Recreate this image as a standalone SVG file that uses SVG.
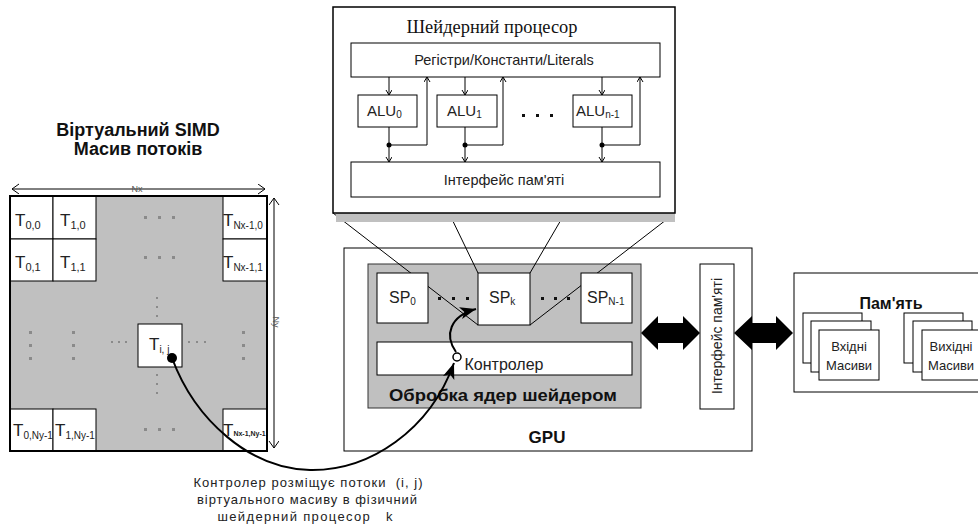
<svg xmlns="http://www.w3.org/2000/svg" width="978" height="526" viewBox="0 0 978 526">
<defs>
<style>
.box{fill:#fff;stroke:#000;stroke-width:1}
.thin{fill:none;stroke:#000;stroke-width:1}
.t{font-family:"Liberation Sans",Arial,sans-serif;fill:#222}
.b{font-family:"Liberation Sans",Arial,sans-serif;font-weight:bold;fill:#111}
.dot{fill:#8a8a8a}
.bd{fill:#111}
</style>
<marker id="ah" markerUnits="userSpaceOnUse" markerWidth="18" markerHeight="14" refX="16" refY="6" orient="auto"><path d="M0,0 L16,6 L0,12 L4,6 z" fill="#000"/></marker>
<marker id="sm" markerUnits="userSpaceOnUse" markerWidth="8" markerHeight="8" refX="5" refY="3" orient="auto"><path d="M0,0 L5,3 L0,6" fill="none" stroke="#000" stroke-width="1"/></marker>
<marker id="op" markerUnits="userSpaceOnUse" markerWidth="10" markerHeight="12" refX="7" refY="5" orient="auto"><path d="M0,0 L7,5 L0,10" fill="none" stroke="#000" stroke-width="1"/></marker>
</defs>
<rect width="978" height="526" fill="#fff"/>

<!-- Virtual SIMD array -->
<g id="simd-title">
<text class="b" x="138" y="136" font-size="18" text-anchor="middle">Віртуальний SIMD</text>
<text class="b" x="138" y="155" font-size="18" text-anchor="middle">Масив потоків</text>
</g>
<g id="simd-array">
<rect x="10" y="196" width="257" height="255" fill="#c0c0c0" stroke="#000" stroke-width="2"/>
<rect class="box" x="10" y="196" width="43" height="43"/>
<rect class="box" x="53" y="196" width="43" height="43"/>
<rect class="box" x="10" y="239" width="43" height="42"/>
<rect class="box" x="53" y="239" width="43" height="42"/>
<rect class="box" x="223" y="196" width="44" height="43"/>
<rect class="box" x="223" y="239" width="44" height="42"/>
<rect class="box" x="10" y="409" width="43" height="42"/>
<rect class="box" x="53" y="409" width="43" height="42"/>
<rect class="box" x="223" y="409" width="44" height="42"/>
<rect class="box" x="138" y="324" width="44" height="43"/>
<rect x="10" y="196" width="257" height="255" fill="none" stroke="#000" stroke-width="2"/>
<text class="t" x="15" y="226" font-size="17">T<tspan font-size="11" dy="3">0,0</tspan></text>
<text class="t" x="60" y="226" font-size="17">T<tspan font-size="11" dy="3">1,0</tspan></text>
<text class="t" x="15" y="268" font-size="17">T<tspan font-size="11" dy="3">0,1</tspan></text>
<text class="t" x="60" y="268" font-size="17">T<tspan font-size="11" dy="3">1,1</tspan></text>
<text class="t" x="223" y="226" font-size="17">T<tspan font-size="10" dy="3">Nx-1,0</tspan></text>
<text class="t" x="223" y="268" font-size="17">T<tspan font-size="10" dy="3">Nx-1,1</tspan></text>
<text class="t" x="13" y="436" font-size="17">T<tspan font-size="10" dy="3">0,Ny-1</tspan></text>
<text class="t" x="55" y="436" font-size="17">T<tspan font-size="10" dy="3">1,Ny-1</tspan></text>
<text class="t" x="223" y="436" font-size="17">T<tspan font-size="7" font-weight="bold" dy="0">Nx-1,Ny-1</tspan></text>
<text class="t" x="149" y="350" font-size="17">T<tspan font-size="10" dy="3">i, j</tspan></text>
<!-- dots -->
<rect class="dot" x="144" y="216" width="3" height="3"/><rect class="dot" x="158" y="216" width="3" height="3"/><rect class="dot" x="172" y="216" width="3" height="3"/>
<rect class="dot" x="144" y="256" width="3" height="3"/><rect class="dot" x="158" y="256" width="3" height="3"/><rect class="dot" x="172" y="256" width="3" height="3"/>
<rect class="dot" x="144" y="428" width="3" height="3"/><rect class="dot" x="158" y="428" width="3" height="3"/><rect class="dot" x="172" y="428" width="3" height="3"/>
<rect class="dot" x="29" y="331" width="3" height="3"/><rect class="dot" x="29" y="344" width="3" height="3"/><rect class="dot" x="29" y="357" width="3" height="3"/>
<rect class="dot" x="72" y="331" width="3" height="3"/><rect class="dot" x="72" y="344" width="3" height="3"/><rect class="dot" x="72" y="357" width="3" height="3"/>
<rect class="dot" x="242" y="331" width="3" height="3"/><rect class="dot" x="242" y="344" width="3" height="3"/><rect class="dot" x="242" y="357" width="3" height="3"/>
<rect class="dot" x="156" y="297" width="2" height="2"/><rect class="dot" x="156" y="306" width="2" height="2"/><rect class="dot" x="156" y="315" width="2" height="2"/>
<rect class="dot" x="156" y="374" width="2" height="2"/><rect class="dot" x="156" y="383" width="2" height="2"/><rect class="dot" x="156" y="392" width="2" height="2"/>
<rect class="dot" x="111" y="341" width="2" height="2"/><rect class="dot" x="118" y="341" width="2" height="2"/><rect class="dot" x="125" y="341" width="2" height="2"/>
<rect class="dot" x="188" y="341" width="2" height="2"/><rect class="dot" x="196" y="341" width="2" height="2"/><rect class="dot" x="204" y="341" width="2" height="2"/>
</g>
<g id="dims">
<line class="thin" x1="137" y1="189" x2="12" y2="189" marker-end="url(#op)"/>
<line class="thin" x1="137" y1="189" x2="265" y2="189" marker-end="url(#op)"/>
<text x="137" y="192" font-size="9" text-anchor="middle" font-family="Liberation Sans,Arial,sans-serif" fill="#555">Nx</text>
<line class="thin" x1="274" y1="322" x2="274" y2="198" marker-end="url(#op)"/>
<line class="thin" x1="274" y1="322" x2="274" y2="448" marker-end="url(#op)"/>
<text transform="translate(273,322) rotate(90)" font-size="9" text-anchor="middle" font-family="Liberation Sans,Arial,sans-serif" fill="#555">Ny</text>
</g>

<!-- GPU -->
<g id="gpu">
<rect class="box" x="344" y="248" width="408" height="203"/>
<text class="b" x="547" y="443" font-size="17" text-anchor="middle">GPU</text>
</g>
<g id="shader-core">
<rect x="368" y="264" width="273" height="144" fill="#c0c0c0" stroke="#333" stroke-width="1"/>
<text class="b" x="503" y="401" font-size="17" text-anchor="middle" textLength="228" lengthAdjust="spacingAndGlyphs">Обробка ядер шейдером</text>
</g>
<g id="connectors">
<line class="thin" x1="333" y1="213" x2="478" y2="325"/>
<line class="thin" x1="449" y1="213" x2="478" y2="273"/>
<line class="thin" x1="565" y1="213" x2="530" y2="273"/>
<line class="thin" x1="675" y1="213" x2="530" y2="325"/>
</g>
<g id="sp0"><rect class="box" x="377" y="273" width="51" height="50"/><text class="t" x="389" y="303" font-size="16">SP<tspan font-size="10" dy="2">0</tspan></text></g>
<g id="spk"><rect class="box" x="478" y="273" width="52" height="52"/><text class="t" x="489" y="303" font-size="16">SP<tspan font-size="10" dy="2">k</tspan></text></g>
<g id="spn"><rect class="box" x="581" y="273" width="51" height="50"/><text class="t" x="587" y="303" font-size="16">SP<tspan font-size="10" dy="2">N-1</tspan></text></g>
<g id="sp-dots">
<rect class="bd" x="438" y="297" width="3" height="3"/><rect class="bd" x="452" y="297" width="3" height="3"/><rect class="bd" x="466" y="297" width="3" height="3"/>
<rect class="bd" x="541" y="297" width="3" height="3"/><rect class="bd" x="554" y="297" width="3" height="3"/><rect class="bd" x="567" y="297" width="3" height="3"/>
</g>
<g id="controller"><rect class="box" x="377" y="342" width="255" height="33"/><text class="t" x="504" y="370" font-size="16" text-anchor="middle">Контролер</text></g>
<g id="mem-iface"><rect class="box" x="700" y="264" width="34" height="145"/><text class="t" transform="translate(722,336) rotate(-90)" font-size="14" text-anchor="middle">Інтерфейс пам'яті</text></g>
<g id="bus">
<polygon points="641,333 658,316 658,323 683,323 683,316 700,333 683,350 683,343 658,343 658,350" fill="#000"/>
<polygon points="734,333 752,316 752,323 776,323 776,316 793,333 776,350 776,343 752,343 752,350" fill="#000"/>
</g>

<!-- Memory -->
<g id="memory">
<rect class="box" x="794" y="273" width="190" height="119"/>
<text class="b" x="891" y="309" font-size="16" text-anchor="middle">Пам'ять</text>
<rect class="box" x="803" y="313" width="59" height="50"/>
<rect class="box" x="811" y="321" width="60" height="51"/>
<rect class="box" x="819" y="330" width="60" height="50"/>
<text class="t" x="849" y="351" font-size="13" text-anchor="middle">Вхідні</text>
<text class="t" x="849" y="370" font-size="13" text-anchor="middle">Масиви</text>
<rect class="box" x="904" y="313" width="59" height="50"/>
<rect class="box" x="913" y="321" width="59" height="51"/>
<rect class="box" x="922" y="330" width="60" height="50"/>
<text class="t" x="951" y="351" font-size="13" text-anchor="middle">Вихідні</text>
<text class="t" x="951" y="370" font-size="13" text-anchor="middle">Масиви</text>
</g>

<!-- Shader processor -->
<g id="shader-processor">
<rect x="336" y="213" width="339" height="9" fill="#c0c0c0"/>
<rect x="333" y="7" width="342" height="206" fill="#fff" stroke="#000" stroke-width="1.5"/>
<text x="492" y="33" font-size="18" text-anchor="middle" font-family="Liberation Serif,Times New Roman,serif" fill="#111" textLength="171" lengthAdjust="spacingAndGlyphs">Шейдерний процесор</text>
</g>
<g id="registers"><rect class="box" x="351" y="43" width="309" height="34"/><text class="t" x="504" y="65" font-size="14.5" text-anchor="middle">Регістри/Константи/Literals</text></g>
<g id="alu0"><rect class="box" x="358" y="95" width="59" height="32"/><text class="t" x="367" y="116" font-size="15">ALU<tspan font-size="10" dy="2">0</tspan></text></g>
<g id="alu1"><rect class="box" x="437" y="95" width="60" height="32"/><text class="t" x="447" y="116" font-size="15">ALU<tspan font-size="10" dy="2">1</tspan></text></g>
<g id="alun"><rect class="box" x="573" y="95" width="59" height="32"/><text class="t" x="576" y="116" font-size="15">ALU<tspan font-size="10" dy="2">n-1</tspan></text></g>
<g id="alu-dots"><rect class="bd" x="522" y="114" width="3" height="3"/><rect class="bd" x="536" y="114" width="3" height="3"/><rect class="bd" x="550" y="114" width="3" height="3"/></g>
<g id="interface"><rect class="box" x="351" y="162" width="309" height="35"/><text class="t" x="504" y="185" font-size="14.5" text-anchor="middle">Інтерфейс пам'яті</text></g>
<g id="alu-links">
<line class="thin" x1="389" y1="77" x2="389" y2="95" marker-end="url(#sm)"/>
<line class="thin" x1="389" y1="127" x2="389" y2="162" marker-end="url(#sm)"/>
<polyline class="thin" points="389,145 427,145 427,77" marker-end="url(#sm)"/>
<circle cx="389" cy="145" r="2.5" fill="#000"/>
<line class="thin" x1="465" y1="77" x2="465" y2="95" marker-end="url(#sm)"/>
<line class="thin" x1="465" y1="127" x2="465" y2="162" marker-end="url(#sm)"/>
<polyline class="thin" points="465,145 503,145 503,77" marker-end="url(#sm)"/>
<circle cx="465" cy="145" r="2.5" fill="#000"/>
<line class="thin" x1="602" y1="77" x2="602" y2="95" marker-end="url(#sm)"/>
<line class="thin" x1="602" y1="127" x2="602" y2="162" marker-end="url(#sm)"/>
<polyline class="thin" points="602,145 640,145 640,77" marker-end="url(#sm)"/>
<circle cx="602" cy="145" r="2.5" fill="#000"/>
</g>

<!-- Mapping curve -->
<g id="mapping">
<path d="M172,358 C195,420 250,469 310,470 C370,471 430,430 454,363" fill="none" stroke="#000" stroke-width="2" marker-end="url(#ah)"/>
<path d="M456,352 C444,335 450,316 476,309" fill="none" stroke="#000" stroke-width="2" marker-end="url(#ah)"/>
<circle cx="457" cy="357" r="4" fill="#fff" stroke="#000" stroke-width="1.5"/>
<circle cx="172" cy="358" r="5" fill="#000"/>
<text class="t" x="308" y="487" font-size="13" text-anchor="middle" textLength="229" xml:space="preserve">Контролер розміщує потоки  (i, j)</text>
<text class="t" x="307" y="504" font-size="13" text-anchor="middle" textLength="220">віртуального масиву в фізичний</text>
<text class="t" x="305" y="521" font-size="13" text-anchor="middle" textLength="175" xml:space="preserve">шейдерний процесор   k</text>
</g>
</svg>
